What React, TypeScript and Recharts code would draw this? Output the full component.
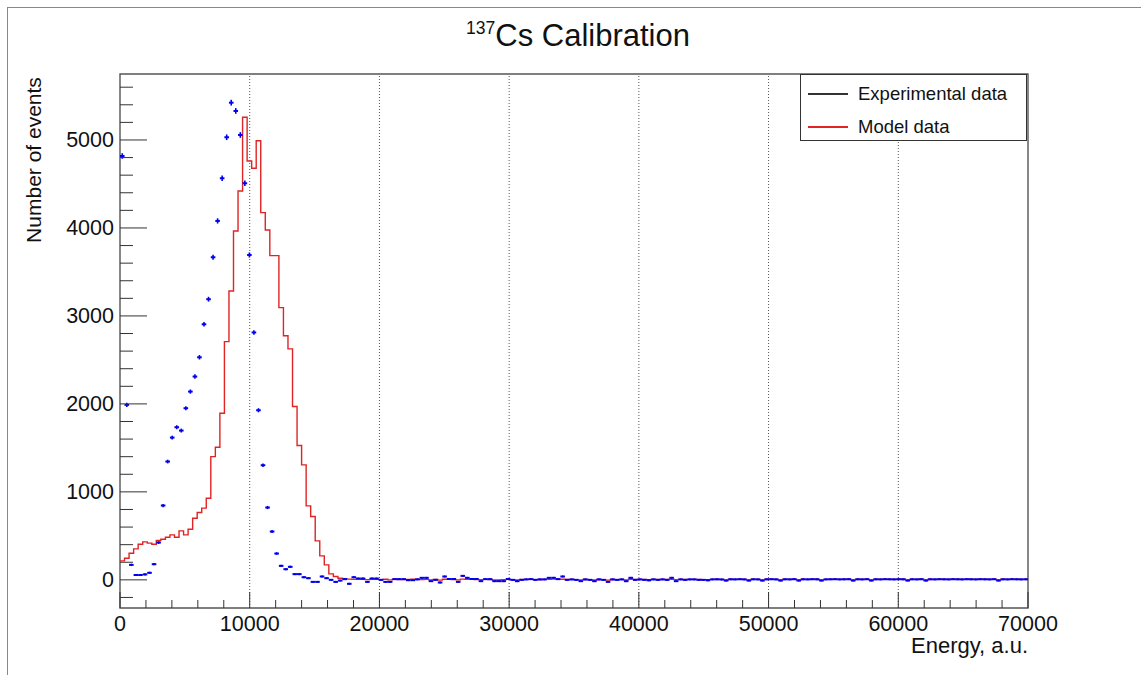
import React from 'react';
import {
  ComposedChart,
  Line,
  Scatter,
  XAxis,
  YAxis,
  ReferenceLine,
  ReferenceArea,
  Legend,
} from 'recharts';

// ---------- data ----------
const BIN_WIDTH = 350; // energy units per bin, 200 bins from 0 to 70000
const X_MIN = 0;
const X_MAX = 70000;
const Y_MIN = -320;
const Y_MAX = 5750;

const experimental: number[] = [
  4818, 1989, 170, 55, 55, 62, 80, 178, 424, 845,
  1345, 1617, 1735, 1697, 1951, 2140, 2311, 2530, 2905, 3190,
  3667, 4080, 4565, 5031, 5424, 5330, 5057, 4508, 3693, 2812,
  1928, 1303, 822, 549, 299, 159, 121, 148, 65, 65,
  30, 19, -23, -23, 38, 19, 0, -23, -8, 8,
  -45, 30, 15, 15, -23, 15, 15, 0, -23, -23,
  8, 8, 8, -4, -4, 5, 23, 23, -15, 0,
  -30, 38, 10, 10, -23, 45, 23, 10, 10, -15,
  8, 8, -15, -15, -15, 10, 0, -15, 0, 5,
  8, 0, 5, 5, 23, 23, 8, 38, 0, 5,
  0, -15, 5, 0, -15, 5, 0, -23, 5, 0,
  5, -15, 23, 0, 5, 0, -5, 5, 0, 5,
  0, 23, -15, 5, 0, 5, 5, 0, 0, -5,
  5, 6, 4, -8, 6, 5, 7, 5, -8, 6,
  5, -8, 6, 7, 5, -8, 6, 5, 7, -8,
  6, 5, 7, 6, -8, 5, 6, 7, 5, 6,
  7, -8, 6, 5, 7, -8, 6, 5, 7, 6,
  5, 7, 6, -8, 6, 5, 7, -8, 6, 5,
  7, 6, 5, 7, 6, 5, 7, 6, 5, 7,
  6, 5, 7, -8, 6, 5, 7, 6, 5, 6,
];

const model: number[] = [
  216, 246, 303, 352, 405, 432, 417, 405, 447, 462,
  485, 511, 485, 557, 511, 576, 701, 765, 815, 928,
  1401, 1508, 1894, 2708, 3284, 3966, 4420, 5258, 4761, 4678,
  4992, 4174, 3977, 3685, 3685, 3094, 2775, 2625, 1970, 1527,
  1307, 841, 720, 443, 273, 170, 68, 38, 19, 12,
  8, 5, 10, 6, 2, 8, 5, 3, 6, 0,
  6, 4, 2, 5, 8, 6, 3, 5, 0, 4,
  -3, 6, 5, 4, 0, 8, 7, 5, 4, 2,
  5, 4, -2, 0, 1, 5, 3, -2, 4, 5,
  6, 3, 4, 5, 7, 8, 6, 7, 4, 5,
  3, 0, 4, 3, -2, 4, 3, -3, 4, 3,
  5, 0, 6, 4, 5, 4, 2, 5, 4, 5,
  4, 6, 2, 5, 4, 5, 5, 4, 3, 2,
  5, 6, 5, 0, 6, 5, 6, 5, 0, 6,
  5, 0, 6, 6, 5, 0, 6, 5, 6, 0,
  6, 5, 6, 6, 0, 5, 6, 6, 5, 6,
  6, 0, 6, 5, 6, 0, 6, 5, 6, 6,
  5, 6, 6, 0, 6, 5, 6, 0, 6, 5,
  6, 6, 5, 6, 6, 5, 6, 6, 5, 6,
  6, 5, 6, 0, 6, 5, 6, 6, 5, 6,
];

const xMajorTicks = [0, 10000, 20000, 30000, 40000, 50000, 60000, 70000];
const yMajorTicks = [0, 1000, 2000, 3000, 4000, 5000];
const gridLines = [10000, 20000, 30000, 40000, 50000, 60000];
const legendItems = [
  { label: 'Experimental data', color: '#333333' },
  { label: 'Model data', color: '#e02424' },
];

const X_MINOR_STEP = 2000;
const Y_MINOR_STEP = 200;

// ---------- derived tables ----------
const modelData = model.map((v, i) => ({ e: i * BIN_WIDTH, v }));
modelData.push({ e: X_MAX, v: model[model.length - 1] });
const expData = experimental.map((v, i) => ({ e: i * BIN_WIDTH + BIN_WIDTH / 2, v }));

const xTicks: number[] = [];
for (let t = X_MIN; t <= X_MAX; t += X_MINOR_STEP) xTicks.push(t);
const yTicks: number[] = [];
for (let t = -200; t <= 5600; t += Y_MINOR_STEP) yTicks.push(t);

const FONT = '"Liberation Sans", Arial, Helvetica, sans-serif';
const BLUE = '#0000f0';
const RED = '#e02424';
const AXIS = '#333333';

const XTick = (props: any) => {
  const { x, y, payload } = props;
  const major = xMajorTicks.includes(payload.value);
  return (
    <g>
      <line x1={x} x2={x} y1={y} y2={y - (major ? 16 : 8)} stroke={AXIS} strokeWidth={1} />
      {major && (
        <text x={x} y={y + 23} textAnchor="middle" fontSize={21.5} fontFamily={FONT} fill="#111">
          {payload.value}
        </text>
      )}
    </g>
  );
};

const YTick = (props: any) => {
  const { x, y, payload } = props;
  const major = yMajorTicks.includes(payload.value);
  return (
    <g>
      <line x1={x} x2={x + (major ? 27 : 13)} y1={y} y2={y} stroke={AXIS} strokeWidth={1} />
      {major && (
        <text x={x - 6} y={y + 7.5} textAnchor="end" fontSize={21.5} fontFamily={FONT} fill="#111">
          {payload.value}
        </text>
      )}
    </g>
  );
};

const ExpMarker = (props: any) => {
  const { cx, cy, payload } = props;
  if (cx == null || cy == null) return null;
  const h = 0.8 + Math.sqrt(Math.abs(payload.v)) / 35;
  return (
    <g>
      <line x1={cx - 2.3} x2={cx + 2.3} y1={cy} y2={cy} stroke={BLUE} strokeWidth={2} />
      <line x1={cx} x2={cx} y1={cy - h} y2={cy + h} stroke={BLUE} strokeWidth={1.6} />
    </g>
  );
};

const LegendBox = () => (
  <div
    style={{
      width: 227,
      height: 67,
      boxSizing: 'border-box',
      border: '1px solid #333',
      background: '#fff',
      fontFamily: FONT,
      fontSize: 18.5,
      color: '#111',
      position: 'relative',
    }}
  >
    {legendItems.map((it, i) => (
      <div
        key={it.label}
        style={{ position: 'absolute', left: 0, top: i === 0 ? 8 : 41, height: 22, display: 'flex', alignItems: 'center' }}
      >
        <div style={{ marginLeft: 7, width: 40, height: 1.5, background: it.color }} />
        <span style={{ marginLeft: 10, whiteSpace: 'nowrap' }}>{it.label}</span>
      </div>
    ))}
  </div>
);

export default function App() {
  return (
    <div style={{ position: 'absolute', left: 0, top: 0, width: 1144, height: 675, background: '#fff' }}>
      <div
        style={{
          position: 'absolute',
          left: 7,
          top: 7,
          width: 1133,
          height: 668,
          borderTop: '1px solid #888',
          borderLeft: '1px solid #888',
        }}
      />
      <div style={{ position: 'absolute', left: 0, top: 0 }}>
        <ComposedChart
          width={1144}
          height={675}
          margin={{ top: 74, right: 116, bottom: 37, left: 60 }}
        >
          <XAxis
            type="number"
            dataKey="e"
            domain={[X_MIN, X_MAX]}
            allowDataOverflow
            ticks={xTicks}
            interval={0}
            tickSize={0}
            tickMargin={0}
            axisLine={false}
            tickLine={false}
            tick={<XTick />}
            height={30}
          />
          <YAxis
            type="number"
            dataKey="v"
            domain={[Y_MIN, Y_MAX]}
            allowDataOverflow
            ticks={yTicks}
            interval={0}
            tickSize={0}
            tickMargin={0}
            axisLine={false}
            tickLine={false}
            tick={<YTick />}
            width={60}
          />
          {gridLines.map((g) => (
            <ReferenceLine key={g} x={g} stroke="#555" strokeDasharray="1 2" strokeWidth={1} />
          ))}
          <ReferenceArea
            x1={X_MIN}
            x2={X_MAX}
            y1={Y_MIN}
            y2={Y_MAX}
            fill="none"
            fillOpacity={0}
            stroke="#555"
            strokeWidth={1.4}
          />
          <Line
            data={modelData}
            dataKey="v"
            type="stepAfter"
            stroke={RED}
            strokeWidth={1.4}
            dot={false}
            activeDot={false}
            isAnimationActive={false}
          />
          <Scatter
            data={expData}
            dataKey="v"
            shape={<ExpMarker />}
            isAnimationActive={false}
          />
          <Legend
            layout="vertical"
            align="center"
            verticalAlign="middle"
            content={() => <LegendBox />}
            wrapperStyle={{ position: 'absolute', left: 800, top: 74, width: 227, height: 67 }}
          />
        </ComposedChart>
      </div>
      <div
        style={{
          position: 'absolute',
          left: 578,
          top: 20,
          transform: 'translateX(-50%)',
          fontFamily: FONT,
          fontSize: 31,
          lineHeight: '31px',
          color: '#111',
          whiteSpace: 'nowrap',
        }}
      >
        <span style={{ fontSize: 17.5, position: 'relative', top: -12 }}>137</span>Cs Calibration
      </div>
      <div
        style={{
          position: 'absolute',
          left: 33,
          top: 160,
          transform: 'translate(-50%, -50%) rotate(-90deg)',
          fontFamily: FONT,
          fontSize: 21,
          lineHeight: '21px',
          color: '#111',
          whiteSpace: 'nowrap',
        }}
      >
        Number of events
      </div>
      <div
        style={{
          position: 'absolute',
          right: 116,
          top: 635,
          fontFamily: FONT,
          fontSize: 22,
          lineHeight: '22px',
          color: '#111',
          whiteSpace: 'nowrap',
        }}
      >
        Energy, a.u.
      </div>
    </div>
  );
}
